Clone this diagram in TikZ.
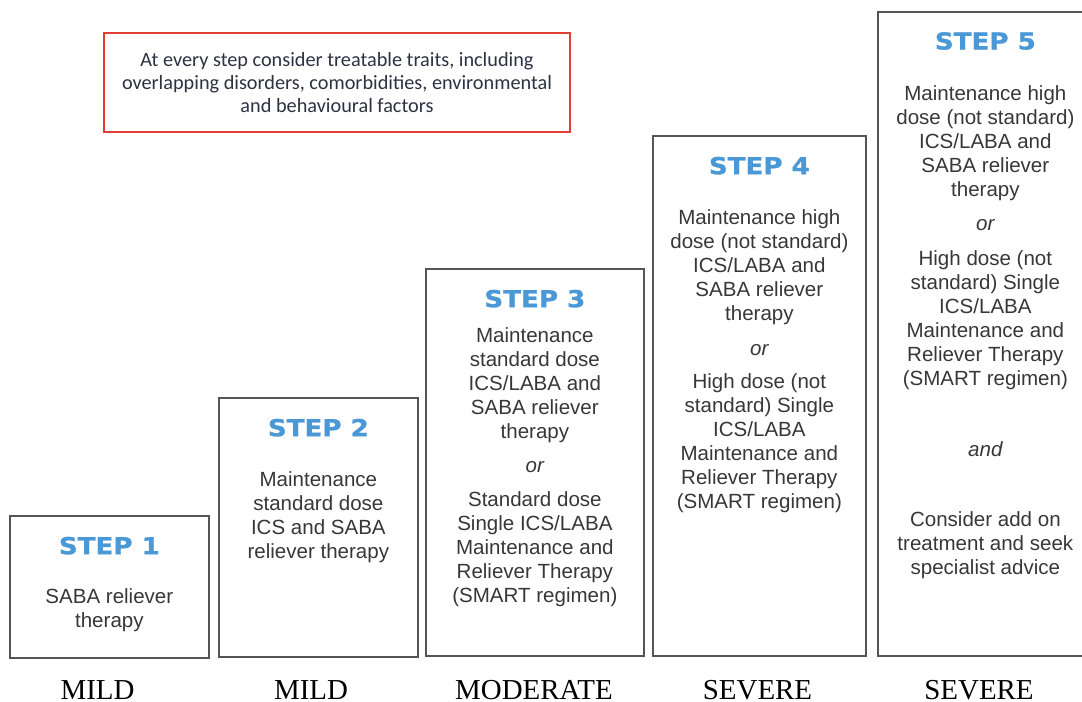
\documentclass[tikz,border=0pt]{standalone}
\usepackage{fontspec}
\setmainfont{Liberation Sans}
\newfontfamily\stepfont{DejaVu Sans}[FakeStretch=1.12, FakeBold=1.2]
\newfontfamily\notefont{Carlito}
\newfontfamily\levelfont{Liberation Serif}
\usetikzlibrary{positioning}

\definecolor{stepblue}{RGB}{74,152,214}
\definecolor{bodygray}{RGB}{55,55,55}
\definecolor{framegray}{RGB}{85,85,85}
\definecolor{notered}{RGB}{228,62,52}
\definecolor{noteink}{RGB}{45,50,65}

\tikzset{
	stepbox/.style={draw=framegray, line width=1.3pt, anchor=south west, inner sep=0pt},
	steptitle/.style={text=stepblue, font=\stepfont\bfseries\fontsize{17.5}{20}\selectfont, inner sep=0pt},
	steptext/.style={text=bodygray, align=center, font=\fontsize{15.4}{18}\selectfont, inner sep=0pt},
	levelname/.style={font=\levelfont\fontsize{21.7}{24}\selectfont, anchor=base, inner sep=0pt}
}

\begin{document}
\begin{tikzpicture}[x=0.75pt, y=0.75pt, on grid]
	\useasboundingbox (0,0) rectangle (1082,702);

	\node (traits) [draw=notered, line width=1.5pt, minimum width=349.5pt, minimum height=74.25pt,
		align=center, text=noteink, font=\notefont\fontsize{15.2}{17.25}\selectfont] at (337,619.5)
		{At every step consider treatable traits, including\\overlapping disorders, comorbidities, environmental\\and behavioural factors};

	\node (box1) [stepbox, minimum width=149.25pt, minimum height=106.5pt] at (9,43) {};
	\node (box2) [stepbox, minimum width=149.25pt, minimum height=194.25pt] at (218,44) {};
	\node (box3) [stepbox, minimum width=163.5pt, minimum height=290.25pt] at (425,45) {};
	\node (box4) [stepbox, minimum width=159.75pt, minimum height=390pt] at (652,45) {};
	\node (box5) [stepbox, minimum width=161.25pt, minimum height=483pt] at (877,45) {};

	\node (title1) [steptitle, below=16pt of box1.north] {STEP 1};
	\node (title2) [steptitle, below=16pt of box2.north] {STEP 2};
	\node (title3) [steptitle, below=16pt of box3.north] {STEP 3};
	\node (title4) [steptitle, below=16pt of box4.north] {STEP 4};
	\node (title5) [steptitle, below=15.5pt of box5.north] {STEP 5};

	\node (text1) [steptext, below=48.75pt of title1] {SABA reliever\\therapy};
	\node (text2) [steptext, below=67pt of title2] {Maintenance\\standard dose\\ICS and SABA\\reliever therapy};

	\node (text3a) [steptext, below=65pt of title3] {Maintenance\\standard dose\\ICS/LABA and\\SABA reliever\\therapy};
	\node (or3) [steptext, below=61pt of text3a] {\itshape or};
	\node (text3b) [steptext, below=62pt of or3] {Standard dose\\Single ICS/LABA\\Maintenance and\\Reliever Therapy\\(SMART regimen)};

	\node (text4a) [steptext, below=76pt of title4] {Maintenance high\\dose (not standard)\\ICS/LABA and\\SABA reliever\\therapy};
	\node (or4) [steptext, below=62.25pt of text4a] {\itshape or};
	\node (text4b) [steptext, below=70pt of or4] {High dose (not\\standard) Single\\ICS/LABA\\Maintenance and\\Reliever Therapy\\(SMART regimen)};

	\node (text5a) [steptext, below=77pt of title5] {Maintenance high\\dose (not standard)\\ICS/LABA and\\SABA reliever\\therapy};
	\node (or5) [steptext, below=61pt of text5a] {\itshape or};
	\node (text5b) [steptext, below=71.25pt of or5] {High dose (not\\standard) Single\\ICS/LABA\\Maintenance and\\Reliever Therapy\\(SMART regimen)};
	\node (and5) [steptext, below=96.75pt of text5b] {\itshape and};
	\node (text5c) [steptext, below=72.4pt of and5] {Consider add on\\treatment and seek\\specialist advice};

	\node (level1) [levelname] at (97.5,2) {MILD};
	\node (level2) [levelname] at (311,2) {MILD};
	\node (level3) [levelname] at (534,2) {MODERATE};
	\node (level4) [levelname] at (757.5,2) {SEVERE};
	\node (level5) [levelname] at (979,2) {SEVERE};
\end{tikzpicture}
\end{document}
